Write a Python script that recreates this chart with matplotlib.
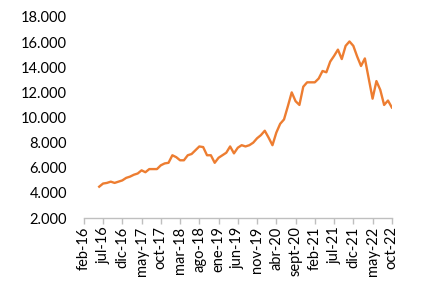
#!/usr/bin/env python3
# -*- coding: utf-8 -*-

import numpy as np
import pandas as pd
import matplotlib
matplotlib.use("Agg")
import matplotlib.pyplot as plt
from matplotlib.ticker import FuncFormatter

# monthly values, jun-16 .. oct-22
months = pd.period_range("2016-06", "2022-10", freq="M")
values = [
    4500, 4750, 4800, 4900, 4800, 4900, 5000, 5200, 5300, 5450,
    5550, 5800, 5650, 5900, 5900, 5900, 6200, 6350, 6400, 7000,
    6850, 6600, 6600, 7000, 7100, 7400, 7700, 7650, 7000, 7000,
    6400, 6800, 7000, 7200, 7700, 7150, 7600, 7800, 7700, 7800,
    8000, 8350, 8600, 8950, 8400, 7800, 8800, 9500, 9850, 10900,
    12000, 11300, 11000, 12450, 12800, 12800, 12800, 13100, 13700, 13600,
    14450, 14900, 15400, 14650, 15700, 16050, 15700, 14850, 14100, 14700,
    13100, 11500, 12900, 12200, 11000, 11350, 10800,
]

tick_months = pd.period_range("2016-02", "2022-10", freq="M")[::5]
tick_labels = [
    "feb-16", "jul-16", "dic-16", "may-17", "oct-17", "mar-18", "ago-18",
    "ene-19", "jun-19", "nov-19", "abr-20", "sept-20", "feb-21", "jul-21",
    "dic-21", "may-22", "oct-22",
]

plt.rcParams["font.family"] = ["Lato", "DejaVu Sans"]

start = pd.Period("2016-02", freq="M")
x = np.array([(m - start).n for m in months])
xt = np.array([(m - start).n for m in tick_months])

fig = plt.figure(figsize=(4.32, 2.92), dpi=100)
ax = fig.add_axes([0.194, 0.253, 0.713, 0.689])

ax.plot(x, values, color="#ED7D31", linewidth=1.7)

ax.set_xlim(xt[0], xt[-1])
ax.set_ylim(2000, 18000)
ax.set_yticks(np.arange(2000, 18001, 2000))
ax.yaxis.set_major_formatter(
    FuncFormatter(lambda v, p: f"{int(v):,}".replace(",", "."))
)
ax.set_xticks(xt)
ax.set_xticklabels(tick_labels, rotation=90)

for side in ["top", "right", "left"]:
    ax.spines[side].set_visible(False)
ax.spines["bottom"].set_color("#BFBFBF")
ax.spines["bottom"].set_linewidth(1.0)

ax.tick_params(axis="y", length=0, pad=12, labelsize=10.5)
ax.tick_params(axis="x", length=4, color="#BFBFBF", width=1.0,
               pad=2, labelsize=10.5)

fig.savefig("out.png", dpi=100)
